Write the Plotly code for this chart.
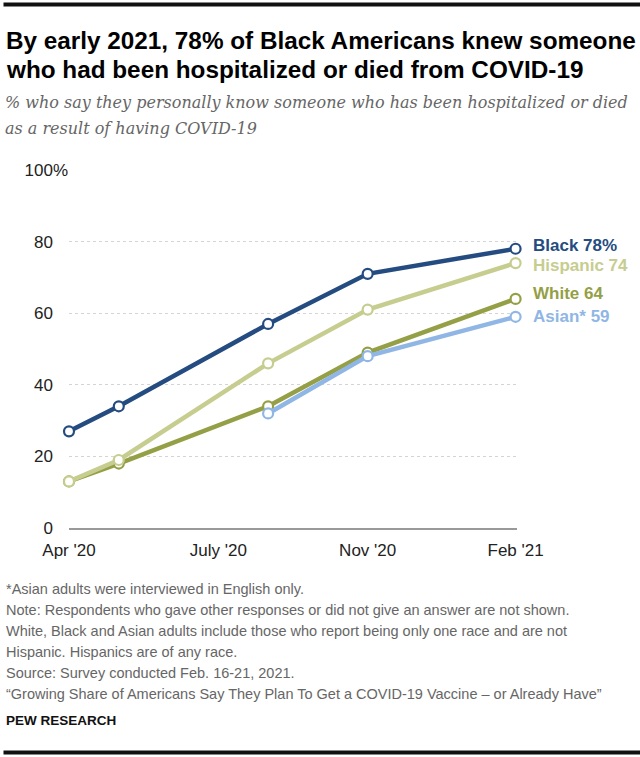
import plotly.graph_objects as go

# ======================
# DATA
# ======================
survey_dates = ["2020-04-10", "2020-05-15", "2020-08-28", "2020-11-06", "2021-02-18"]
black = [27, 34, 57, 71, 78]
hispanic = [13, 19, 46, 61, 74]
white = [13, 18, 34, 49, 64]
asian = [None, None, 32, 48, 59]

tick_dates = ["2020-04-10", "2020-07-24", "2020-11-06", "2021-02-18"]
tick_labels = ["Apr '20", "July '20", "Nov '20", "Feb '21"]
y_ticks = [0, 20, 40, 60, 80, 100]

title_lines = ["By early 2021, 78% of Black Americans knew someone",
               "who had been hospitalized or died from COVID-19"]
subtitle_lines = ["% who say they personally know someone who has been hospitalized or died",
                  "as a result of having COVID-19"]
footer_lines = [
    "*Asian adults were interviewed in English only.",
    "Note: Respondents who gave other responses or did not give an answer are not shown.",
    "White, Black and Asian adults include those who report being only one race and are not",
    "Hispanic. Hispanics are of any race.",
    "Source: Survey conducted Feb. 16-21, 2021.",
    "\u201cGrowing Share of Americans Say They Plan To Get a COVID-19 Vaccine \u2013 or Already Have\u201d",
]

series = [
    # name, values, colour, label suffix, label yshift
    ("White", white, "#949f46", "", 5),
    ("Asian*", asian, "#8fb6e4", "", 0),
    ("Hispanic", hispanic, "#c6cd8f", "", -2),
    ("Black", black, "#244c80", "%", 3),
]

# plot area in page pixels
L, R, T, B = 69, 517, 170, 528
W, H = 640, 757


def px(x):
    return (x - L) / (R - L)


def py(y):
    return (B - y) / (B - T)


fig = go.Figure()
for name, vals, col, suffix, ys in series:
    fig.add_trace(go.Scatter(
        x=survey_dates, y=vals, mode="lines+markers", name=name,
        line=dict(color=col, width=4.5),
        marker=dict(size=10, color="white", line=dict(color=col, width=2.2)),
        cliponaxis=False, hoverinfo="x+y+name",
    ))
    fig.add_annotation(
        x=survey_dates[-1], y=vals[-1], text=f"<b>{name} {vals[-1]}{suffix}</b>",
        xanchor="left", yanchor="middle", xshift=15, yshift=ys, showarrow=False,
        font=dict(family="Liberation Sans", size=17, color=col),
    )

pad = "<span style='color:rgba(0,0,0,0)'>%</span>"
fig.update_yaxes(
    range=[0, 100], tickvals=y_ticks,
    ticktext=[f"{v}{pad}" if v < 100 else f"{v}%" for v in y_ticks],
    showgrid=True, gridcolor="#d4d4d4", griddash="dot", gridwidth=1,
    zeroline=False, showline=False, ticks="", ticklabelstandoff=0, automargin=False,
    tickfont=dict(family="Liberation Sans", size=17, color="#222"),
)
fig.update_xaxes(
    type="date", range=["2020-04-10", "2021-02-19"],
    tickvals=tick_dates, ticktext=tick_labels, showgrid=False, zeroline=False,
    showline=True, linecolor="#999", linewidth=2, ticks="", ticklabelstandoff=6,
    automargin=False, tickfont=dict(family="Liberation Sans", size=17, color="#222"),
)


def text_line(s, x, y, size, family, color):
    fig.add_annotation(
        xref="paper", yref="paper", x=px(x), y=py(y), xanchor="left", yanchor="middle",
        align="left", showarrow=False, text=s,
        font=dict(family=family, size=size, color=color),
    )


for i, s in enumerate(title_lines):
    text_line(f"<b>{s}</b>", 4, 40 + 30 * i, 24.3, "Liberation Sans", "#000")
for i, s in enumerate(subtitle_lines):
    text_line(f"<i>{s}</i>", 3, 103 + 25 * i, 16, "DejaVu Serif", "#666")
for i, s in enumerate(footer_lines):
    text_line(s, 4, 589 + 21 * i, 14.5, "Liberation Sans", "#666")
text_line("<b>PEW RESEARCH</b>", 4, 720, 13.5, "Liberation Sans", "#111")

# thin black rules at the very top and bottom of the page (filled boxes)
for yy in (4, 752):
    fig.add_annotation(
        xref="paper", yref="paper", x=px(3), y=py(yy), xanchor="left", yanchor="middle",
        showarrow=False, text=" ", width=W - 3, height=3, borderpad=0,
        bgcolor="#111111", font=dict(size=1),
    )

fig.update_layout(
    width=W, height=H, showlegend=False,
    margin=dict(l=L, r=W - R, t=T, b=H - B),
    plot_bgcolor="white", paper_bgcolor="white",
)

fig.write_html("out.html", config={"displayModeBar": False},
               post_script="document.body.style.margin='0';")
